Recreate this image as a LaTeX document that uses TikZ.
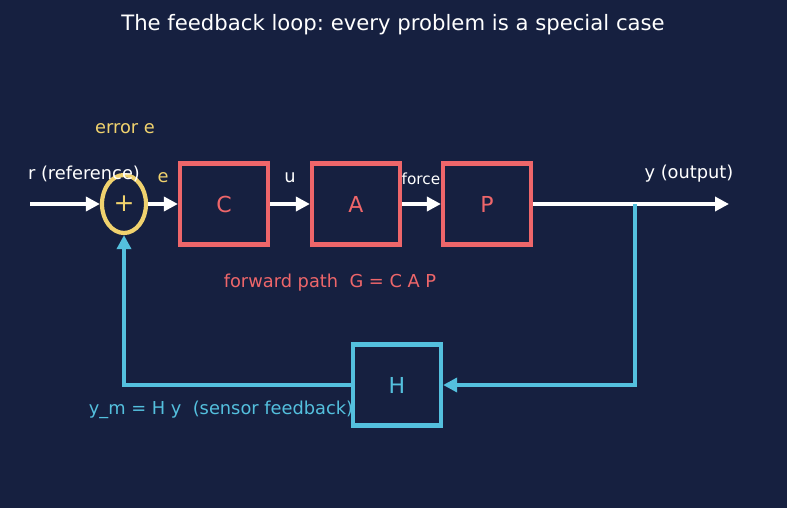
\documentclass[tikz,border=0pt]{standalone}
\usepackage{fontspec}
\setmainfont{DejaVu Sans}
\frenchspacing
\usetikzlibrary{arrows.meta,shapes.geometric}
\definecolor{bg}{RGB}{22,32,64}
\definecolor{redc}{RGB}{238,102,106}
\definecolor{yelc}{RGB}{240,210,110}
\definecolor{cyac}{RGB}{84,192,222}
\tikzset{
  blockbox/.style={draw=redc, line width=4.2pt, minimum width=88pt, minimum height=81pt, inner sep=0pt, text=redc, font=\fontsize{22}{24}\selectfont},
  hbox/.style={blockbox, draw=cyac, text=cyac},
  wire/.style={line width=3.6pt, white},
  warrow/.style={wire, -{Triangle[length=14pt,width=14pt]}},
  carrow/.style={line width=3.6pt, cyac, -{Triangle[length=14pt,width=14pt]}},
  lbl/.style={font=\fontsize{17.8}{20}\selectfont, inner sep=0pt},
}
\begin{document}
\begin{tikzpicture}[x=1pt,y=-1pt]
\fill[bg] (0,0) rectangle (787,508);
\useasboundingbox (0,0) rectangle (787,508);
\node[lbl, white, font=\fontsize{21.2}{24}\selectfont] (title) at (393,25) {The feedback loop: every problem is a special case};
\node[draw=yelc, line width=4.2pt, ellipse, minimum width=44pt, minimum height=58pt, inner sep=0pt, text=yelc, font=\fontsize{25}{26}\selectfont] (sum) at (124,204) {+};
\node[blockbox] (C) at (224,204) {C};
\node[blockbox] (A) at (356,204) {A};
\node[blockbox] (P) at (487,204) {P};
\node[hbox] (H) at (397,385) {H};
\coordinate (in) at (30,204);
\coordinate (out) at (729,204);
\coordinate (br) at (635,204);
\coordinate (brd) at (635,385);
\coordinate (fbc) at (124,385);
\draw[warrow] (in) -- (sum.west);
\draw[warrow] (sum.east) -- (C.west);
\draw[warrow] (C.east) -- (A.west);
\draw[warrow] (A.east) -- (P.west);
\draw[warrow] (P.east) -- (out);
\draw[carrow] (br) -- (brd) -- (H.east);
\draw[carrow] (H.west) -- (fbc) -- (sum.south);
\node[lbl, white] (rl) at (84,174) {r (reference)};
\node[lbl, yelc] (el) at (125,129) {error e};
\node[lbl, yelc] (e2) at (163,178) {e};
\node[lbl, white] (ul) at (290,178) {u};
\node[lbl, white, font=\fontsize{15.3}{17}\selectfont] (fl) at (421,179) {force};
\node[lbl, white] (yl) at (689,174) {y (output)};
\node[lbl, redc] (fp) at (330,283) {forward path\ \ G = C A P};
\node[lbl, cyac] (ym) at (221,410) {y\_m = H y\ \ (sensor feedback)};
\end{tikzpicture}
\end{document}
